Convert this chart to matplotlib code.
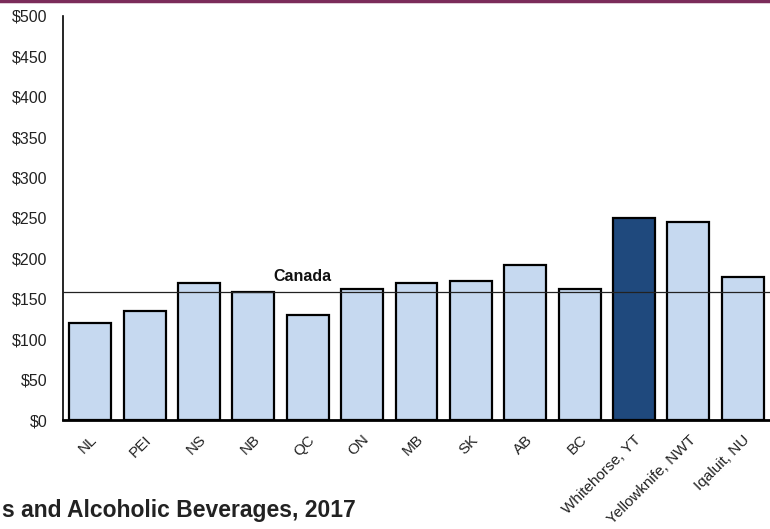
import matplotlib.pyplot as plt
from matplotlib.ticker import FuncFormatter
from matplotlib.lines import Line2D

plt.rcParams['font.family'] = ['Liberation Sans', 'DejaVu Sans']

places = ["NL", "PEI", "NS", "NB", "QC", "ON", "MB", "SK", "AB", "BC",
          "Whitehorse, YT", "Yellowknife, NWT", "Iqaluit, NU"]
spending = [120, 135, 170, 158, 130, 162, 169, 172, 192, 162, 250, 245, 177]
canada_avg = 158.5
highlight = "Whitehorse, YT"


def bar_colors(names):
    return ["#1f497d" if n == highlight else "#c6d9f0" for n in names]


fig = plt.figure(figsize=(7.7, 5.29), dpi=100)
ax = fig.add_axes([0.0818, 0.206, 0.9182, 0.764])

x = range(len(places))
ax.bar(x, spending, width=0.77, color=bar_colors(places),
       edgecolor="black", linewidth=1.6, zorder=2)
ax.axhline(canada_avg, color="#222222", linewidth=0.9, zorder=3)
ax.text(3.9, canada_avg + 19, "Canada", fontsize=11.5, fontweight="bold",
        ha="center", va="center", color="#111111")

ax.set_xlim(-0.5, len(places) - 0.5)
ax.set_ylim(0, 500)
ax.set_yticks(range(0, 501, 50))
ax.yaxis.set_major_formatter(FuncFormatter(lambda v, p: "$%d" % v))
ax.set_xticks(list(x))
ax.set_xticklabels(places, rotation=45, ha="right", rotation_mode="anchor")
ax.tick_params(axis="both", length=0, colors="#222222")
ax.tick_params(axis="y", pad=11, labelsize=11.5)
ax.tick_params(axis="x", pad=9, labelsize=11)

for s in ["top", "right"]:
    ax.spines[s].set_visible(False)
ax.spines["left"].set_linewidth(1.2)
ax.spines["bottom"].set_linewidth(2.0)

# maroon rule along the top edge
fig.add_artist(Line2D([0, 1], [0.998, 0.998], transform=fig.transFigure,
                      color="#7b2c5a", linewidth=2.5))
fig.text(0.002, 0.022, "s and Alcoholic Beverages, 2017", fontsize=16.5,
         fontweight="bold", color="#222222", ha="left", va="baseline")

fig.savefig("out.png", dpi=100)
